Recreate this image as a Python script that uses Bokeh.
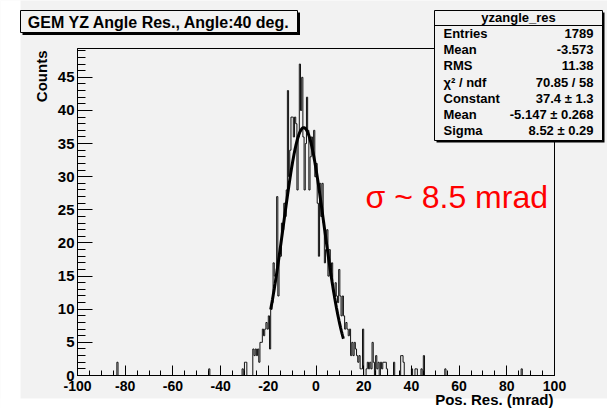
import numpy as np
from bokeh.plotting import figure
from bokeh.models import FixedTicker, Label, BoxAnnotation, Range1d
from bokeh.embed import file_html
from bokeh.resources import INLINE

# ---------------- data ----------------
title_text = "GEM YZ Angle Res., Angle:40 deg."
x_label = "Pos. Res. (mrad)"
y_label = "Counts"
annot_text = "\u03c3 ~ 8.5 mrad"

x_min, x_max, bin_width = -100.0, 100.0, 0.5
y_max = 49.35

x_ticks = [-100, -80, -60, -40, -20, 0, 20, 40, 60, 80, 100]
y_ticks = [0, 5, 10, 15, 20, 25, 30, 35, 40, 45]

# bin contents, consecutive 0.5 mrad bins starting at core_start
core_start = -31.0
core_counts = [
    1, 0, 2, 2,      # -31
    0, 0, 0, 0,      # -29
    0, 4, 3, 4,      # -27
    3, 4, 2, 5,      # -25
    5, 7, 6, 7,      # -23
    8, 7, 9, 4,      # -21
    10, 11, 17, 15,  # -19
    15, 27, 12, 18,  # -17
    18, 23, 22, 26,  # -15
    24, 28, 43, 30,  # -13
    34, 39, 39, 36,  # -11
    39, 38, 28, 36,  # -9
    47, 40, 45, 36,  # -7
    28, 35, 42, 37,  # -5
    28, 33, 36, 34,  # -3
    37, 30, 32, 26,  # -1
    18, 29, 24, 29,  # 1
    23, 17, 19, 22,  # 3
    15, 19, 15, 17,  # 5
    13, 12, 14, 12,  # 7
    11, 16, 12, 9,   # 9
    12, 9, 7, 8,     # 11
    7, 6, 7, 3,      # 13
    5, 3, 5, 4,      # 15
    3, 2, 3, 1,      # 17
    1, 7, 0, 0,      # 19
    1, 2, 1, 2,      # 21
    1, 5, 2, 0,      # 23
    3, 1, 2, 0,      # 25
    2, 1, 2, 2,      # 27
    2, 1, 0, 0,      # 29
    0, 0, 0, 2,      # 31
    0, 0, 0, 0,      # 33
    0, 3, 3, 2,      # 35
    0, 0, 0, 0,      # 37
    0, 0, 1, 0,      # 39
    0, 1, 1, 0,      # 41
    0, 0, 1, 0,      # 43
    3, 0, 0, 0,      # 45
]
outlier_x = [-83.5, -45.0, 54.0, 86.0]
outlier_n = [2, 1, 1, 1]

# gaussian fit shown in the stats box
fit_const, fit_mean, fit_sigma = 37.4, -5.147, 8.52
fit_lo, fit_hi = -19.0, 11.5

stats_title = "yzangle_res"
stats_labels = ["Entries", "Mean", "RMS", "\u03c7\u00b2 / ndf", "Constant", "Mean", "Sigma"]
stats_values = ["1789", "-3.573", "11.38", "70.85 / 58", "37.4 \u00b1 1.3",
                "-5.147 \u00b1 0.268", "8.52 \u00b1 0.29"]

# ---------------- layout (pixels) ----------------
W, H = 607, 408
FL, FR, FT, FB = 77, 554, 48, 375      # where the data box sits on the canvas
GRAY = "#f2f2f2"
FONT = "Liberation Sans"


def dx(px):
    return x_min + (px - FL) * (x_max - x_min) / (FR - FL)


def dy(py):
    return (FB - py) * y_max / (FB - FT)


# ---------------- histogram arrays ----------------
nb = int(round((x_max - x_min) / bin_width))
edges = x_min + bin_width * np.arange(nb + 1)
counts = np.zeros(nb)
i0 = int(round((core_start - x_min) / bin_width))
counts[i0:i0 + len(core_counts)] = core_counts
for xo, no in zip(outlier_x, outlier_n):
    counts[int(round((xo - x_min) / bin_width))] += no
step_y = np.append(counts, counts[-1])

xf = np.linspace(fit_lo, fit_hi, 200)
yf = fit_const * np.exp(-0.5 * ((xf - fit_mean) / fit_sigma) ** 2)

# ---------------- figure: frame covers the whole canvas ----------------
p = figure(width=W, height=H, x_range=Range1d(dx(0), dx(W)), y_range=Range1d(dy(H), dy(0)),
           output_backend="svg", toolbar_location=None,
           min_border_left=0, min_border_right=0, min_border_top=0, min_border_bottom=0,
           background_fill_color=GRAY, border_fill_color=GRAY)
p.xgrid.visible = False
p.ygrid.visible = False
p.outline_line_color = None

# white margins of the original canvas
p.add_layout(BoxAnnotation(left=dx(-5), right=dx(20), top=dy(-5), bottom=dy(H + 5),
                           fill_color="white", fill_alpha=1.0, line_alpha=0, level="underlay"))
p.add_layout(BoxAnnotation(left=dx(-5), right=dx(W + 5), top=dy(398), bottom=dy(H + 5),
                           fill_color="white", fill_alpha=1.0, line_alpha=0, level="underlay"))

p.step(x=edges, y=step_y, mode="after", line_color="#111111", line_width=1)
p.line(xf, yf, line_color="black", line_width=3)

# axes fixed on the data box
p.xaxis.fixed_location = 0
p.yaxis.fixed_location = x_min
p.xaxis.bounds = (x_min, x_max)
p.yaxis.bounds = (0, y_max)
for ax in (p.xaxis[0], p.yaxis[0]):
    ax.axis_line_color = "black"
    ax.major_tick_line_color = "black"
    ax.minor_tick_line_color = "black"
    ax.major_tick_out = 0
    ax.minor_tick_out = 0
    ax.major_label_text_font = FONT
    ax.major_label_text_font_style = "bold"
    ax.major_label_text_color = "black"

p.xaxis.ticker = FixedTicker(ticks=x_ticks, minor_ticks=list(np.arange(x_min, x_max + 1, 5)))
p.xaxis.major_label_overrides = {t: str(t) for t in x_ticks}
p.xaxis.major_tick_in = 10
p.xaxis.minor_tick_in = 5
p.xaxis.major_label_text_font_size = "14px"
p.xaxis.major_label_standoff = 5

p.yaxis.ticker = FixedTicker(ticks=y_ticks, minor_ticks=list(range(0, 50)))
p.yaxis.major_label_overrides = {t: str(t) for t in y_ticks}
p.yaxis.major_tick_in = 15
p.yaxis.minor_tick_in = 8
p.yaxis.major_label_text_font_size = "15px"
p.yaxis.major_label_standoff = 3

# frame box
p.add_layout(BoxAnnotation(left=x_min, right=x_max, bottom=0, top=y_max,
                           fill_alpha=0, line_color="black", line_alpha=1.0, line_width=1))

# axis titles
p.add_layout(Label(x=dx(41), y=dy(FT + 2), text=y_label, angle=np.pi / 2, text_align="right",
                   text_baseline="middle", text_font=FONT, text_font_style="bold",
                   text_font_size="15px", text_color="black"))
p.add_layout(Label(x=dx(FR - 1), y=dy(398.5), text=x_label, text_align="right",
                   text_baseline="middle", text_font=FONT, text_font_style="bold",
                   text_font_size="15px", text_color="black"))

# title box with shadow
p.add_layout(BoxAnnotation(left=dx(22), right=dx(299.5), top=dy(12), bottom=dy(34.5),
                           fill_color="black", fill_alpha=1.0, line_alpha=0))
p.add_layout(BoxAnnotation(left=dx(20), right=dx(297), top=dy(10), bottom=dy(32),
                           fill_color=GRAY, fill_alpha=1.0, line_color="black",
                           line_alpha=1.0, line_width=1))
p.add_layout(Label(x=dx(158.5), y=dy(21.5), text=title_text, text_align="center",
                   text_baseline="middle", text_font=FONT, text_font_style="bold",
                   text_font_size="16px", text_color="black"))

# stats box with shadow
SL, SR, ST, SB = 434, 602, 10, 140
p.add_layout(BoxAnnotation(left=dx(SL + 2), right=dx(SR + 2), top=dy(ST + 2), bottom=dy(SB + 2),
                           fill_color="black", fill_alpha=1.0, line_alpha=0))
p.add_layout(BoxAnnotation(left=dx(SL), right=dx(SR), top=dy(ST), bottom=dy(SB),
                           fill_color=GRAY, fill_alpha=1.0, line_color="black",
                           line_alpha=1.0, line_width=1))
p.add_layout(BoxAnnotation(left=dx(SL), right=dx(SR), top=dy(24.5), bottom=dy(25.5),
                           fill_color="black", fill_alpha=1.0, line_alpha=0))
p.add_layout(Label(x=dx((SL + SR) / 2), y=dy(17), text=stats_title, text_align="center",
                   text_baseline="middle", text_font=FONT, text_font_style="bold",
                   text_font_size="13px", text_color="black"))
for i, (lab, val) in enumerate(zip(stats_labels, stats_values)):
    yy = dy(33 + 16.2 * i)
    p.add_layout(Label(x=dx(443), y=yy, text=lab, text_align="left", text_baseline="middle",
                       text_font=FONT, text_font_style="bold", text_font_size="13px",
                       text_color="black"))
    p.add_layout(Label(x=dx(593), y=yy, text=val, text_align="right", text_baseline="middle",
                       text_font=FONT, text_font_style="bold", text_font_size="13px",
                       text_color="black"))

# red annotation
p.add_layout(Label(x=dx(365), y=dy(196), text=annot_text, text_align="left",
                   text_baseline="alphabetic", text_font=FONT, text_font_size="32px",
                   text_color="red"))

open("out.html", "w").write(file_html(p, INLINE))
